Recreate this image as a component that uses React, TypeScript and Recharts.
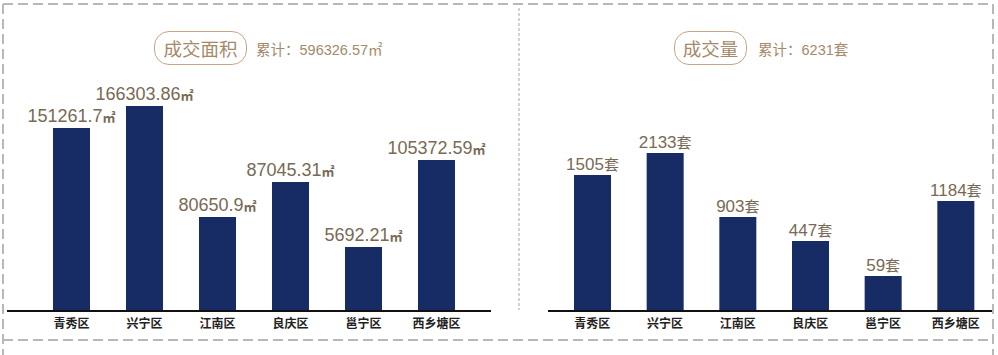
import { Bar, BarChart, LabelList, XAxis, YAxis } from "recharts";

const districts = ["青秀区", "兴宁区", "江南区", "良庆区", "邕宁区", "西乡塘区"];

// Printed figures (the source graphic does not draw its bars to these, so the
// bar lengths below are read off the picture separately).
const areaLabels = ["151261.7", "166303.86", "80650.9", "87045.31", "5692.21", "105372.59"];
const areaBars = [148100, 166000, 76100, 104400, 51800, 122200];
const areaTotal = "累计：596326.57㎡";

const unitLabels = ["1505", "2133", "903", "447", "59", "1184"];
const unitBars = [1835, 2133, 1270, 945, 472, 1485];
const unitTotal = "累计：6231套";

const BAR = "#172b64";
const LABEL = "#786a55";
const GOLD = "#a4896a";
const LATIN = '"Liberation Sans", Arial, sans-serif';
const CJK = '"Noto Sans CJK SC", sans-serif';

function rows(bars: number[], labels: string[]) {
  return districts.map((name, i) => ({ name, value: bars[i], label: labels[i] }));
}

function Badge({ left, width, text }: { left: number; width: number; text: string }) {
  return (
    <div
      style={{
        position: "absolute",
        left,
        top: 31,
        width,
        height: 34,
        boxSizing: "border-box",
        border: "1.5px solid #c4a684",
        borderRadius: 15,
        display: "flex",
        alignItems: "center",
        justifyContent: "center",
        fontSize: 18.5,
        color: GOLD,
        fontFamily: CJK,
      }}
    >
      {text}
    </div>
  );
}

function Total({ left, text }: { left: number; text: string }) {
  return (
    <div
      style={{
        position: "absolute",
        left,
        top: 40,
        fontSize: 14.5,
        lineHeight: "20px",
        color: "#a38a6a",
        fontFamily: `"Liberation Sans", Arial, ${CJK}`,
      }}
    >
      {text}
    </div>
  );
}

const tickStyle = {
  fontSize: 12,
  fontWeight: 700,
  fill: "#222",
  fontFamily: CJK,
};

// number in Arial, unit glyph in the CJK face, like the source
function valueLabel(unit: string, size: number, unitSize: number, offset: number) {
  return (p: any) => {
    const x = Number(p.x) + Number(p.width) / 2;
    const y = Number(p.y) - offset;
    return (
      <text x={x} y={y} textAnchor="middle" fill={LABEL} fontSize={size} fontFamily={LATIN}>
        <tspan>{p.value}</tspan>
        <tspan fontFamily={CJK} fontSize={unitSize} fontWeight={unit === "㎡" ? 700 : 400}>
          {unit}
        </tspan>
      </text>
    );
  };
}

function DistrictChart(props: {
  data: { name: string; value: number; label: string }[];
  width: number;
  max: number;
  margin: { top: number; right: number; bottom: number; left: number };
  padding: { left: number; right: number };
  label: (p: any) => any;
}) {
  return (
    <BarChart width={props.width} height={355} data={props.data} margin={props.margin}>
      <XAxis
        dataKey="name"
        height={30}
        padding={props.padding}
        tickLine={false}
        tickMargin={2}
        tick={tickStyle}
        axisLine={{ stroke: "#111", strokeWidth: 2 }}
        interval={0}
      />
      <YAxis hide domain={[0, props.max]} />
      <Bar dataKey="value" fill={BAR} barSize={37} isAnimationActive={false}>
        <LabelList dataKey="label" content={props.label} />
      </Bar>
    </BarChart>
  );
}

function Frame() {
  const dash = { stroke: "#b8b8b8", strokeWidth: 2, strokeDasharray: "10 5", fill: "none" };
  return (
    <svg
      width={998}
      height={355}
      style={{ position: "absolute", left: 0, top: 0, pointerEvents: "none" }}
    >
      <line x1={3} y1={4} x2={993} y2={4} {...dash} />
      <line x1={3} y1={4} x2={3} y2={355} {...dash} />
      <line x1={993} y1={4} x2={993} y2={355} {...dash} />
      <line x1={3} y1={340} x2={993} y2={340} {...dash} />
      <line
        x1={519}
        y1={8}
        x2={519}
        y2={310}
        stroke="#c4c4c4"
        strokeWidth={1.5}
        strokeDasharray="3 2"
      />
    </svg>
  );
}

export default function App() {
  return (
    <div
      style={{
        position: "absolute",
        left: 0,
        top: 0,
        width: 998,
        height: 355,
        background: "#fff",
        overflow: "hidden",
      }}
    >
      <div style={{ position: "absolute", left: 0, top: 0 }}>
        <DistrictChart
          data={rows(areaBars, areaLabels)}
          width={500}
          max={170000}
          margin={{ top: 101, right: 9, bottom: 14, left: 7 }}
          padding={{ left: 28, right: 18 }}
          label={valueLabel("㎡", 18, 13, 6)}
        />
      </div>
      <div style={{ position: "absolute", left: 500, top: 0 }}>
        <DistrictChart
          data={rows(unitBars, unitLabels)}
          width={498}
          max={2200}
          margin={{ top: 148, right: 6, bottom: 14, left: 48 }}
          padding={{ left: 8, right: 0 }}
          label={valueLabel("套", 17, 15, 5)}
        />
      </div>
      <Badge left={154} width={93} text="成交面积" />
      <Total left={256} text={areaTotal} />
      <Badge left={674} width={73} text="成交量" />
      <Total left={758} text={unitTotal} />
      <Frame />
    </div>
  );
}
